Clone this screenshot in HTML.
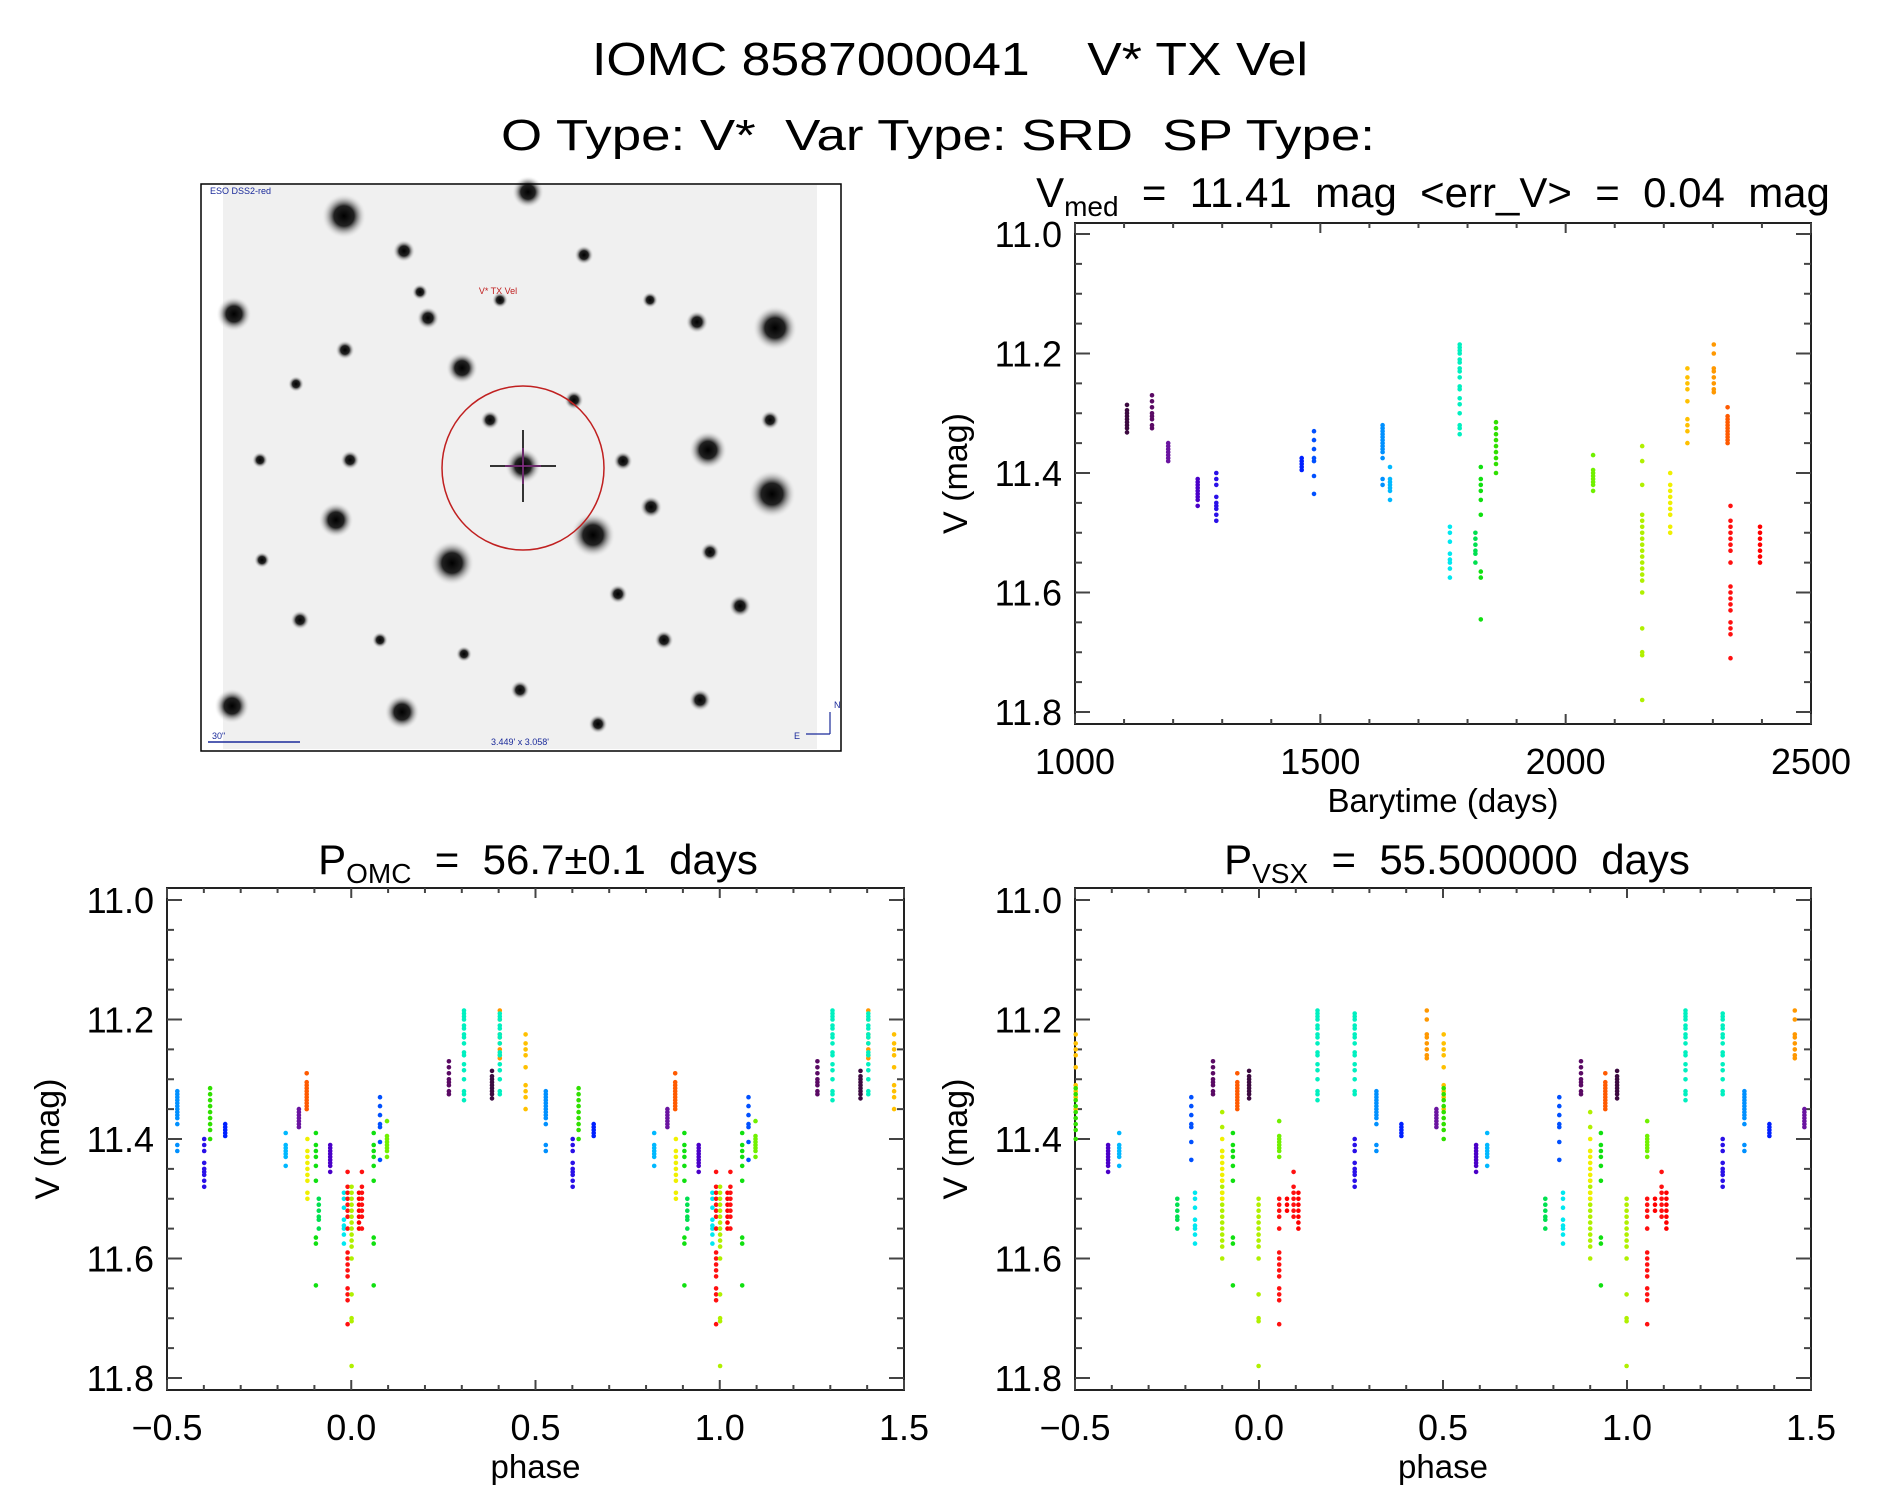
<!DOCTYPE html>
<html><head><meta charset="utf-8"><style>
html,body{margin:0;padding:0;background:#fff;}
svg{display:block;font-family:"Liberation Sans",sans-serif;}
text{white-space:pre;}
</style></head><body>
<svg id="fig" width="1889" height="1494" viewBox="0 0 1889 1494" xmlns="http://www.w3.org/2000/svg" xml:space="preserve">
<rect width="1889" height="1494" fill="#fff"/>
<text x="950" y="75" font-size="46" text-anchor="middle" textLength="716" lengthAdjust="spacingAndGlyphs">IOMC 8587000041    V* TX Vel</text>
<text x="938" y="150" font-size="44" text-anchor="middle" textLength="874" lengthAdjust="spacingAndGlyphs">O Type: V*  Var Type: SRD  SP Type:</text>
<g id="sky"></g>
<g id="p1"></g>
<g id="p2"></g>
<g id="p3"></g>
</svg>
<script>
// ---- data ----
const clusterTimes = [1106,1157,1190,1250,1288,1462,1487,1627,1642,1764,1784,1816,1827,1858,2056,2156,2213,2248,2302,2330,2336,2396];
const clusterColors = ['#3c0a40','#5a0a64','#6a14a0','#4a00c8','#2a10e8','#0020ff','#0050ff','#0090ff','#00b8ff','#00e8f0','#00f0c0','#00e050','#10e010','#30e000','#70f000','#b0f000','#f0f000','#ffc000','#ff9800','#ff5a00','#ff1010','#ff0000'];
const m1=[11.286,11.295,11.30,11.305,11.31,11.315,11.32,11.325,11.332];
const m2=[11.27,11.28,11.29,11.30,11.305,11.31,11.32,11.325];
const m3=[11.35,11.355,11.36,11.365,11.37,11.375,11.38];
const m4=[11.41,11.415,11.42,11.425,11.43,11.435,11.44,11.445,11.455];
const m5=[11.40,11.41,11.42,11.44,11.45,11.455,11.46,11.47,11.48];
const m6=[11.375,11.38,11.385,11.39,11.395];
const m7=[11.33,11.345,11.36,11.375,11.38,11.405,11.435];
const m8=[11.32,11.325,11.33,11.335,11.34,11.345,11.35,11.355,11.36,11.365,11.375,11.41,11.42];
const m9=[11.39,11.41,11.415,11.42,11.425,11.43,11.445];
const m10=[11.49,11.50,11.515,11.535,11.545,11.55,11.56,11.575];
const m11=[11.185,11.19,11.195,11.20,11.21,11.215,11.225,11.23,11.24,11.255,11.26,11.275,11.285,11.30,11.32,11.325,11.335];
const m12=[11.50,11.51,11.52,11.53,11.535,11.55];
const m13=[11.39,11.41,11.42,11.43,11.445,11.47,11.565,11.575,11.645];
const m14=[11.315,11.325,11.335,11.345,11.355,11.365,11.375,11.385,11.40];
const m15=[11.37,11.395,11.40,11.405,11.41,11.415,11.42,11.43];
const m16=[11.355,11.38,11.42,11.47,11.48,11.49,11.50,11.51,11.52,11.53,11.54,11.55,11.56,11.57,11.58,11.60,11.66,11.70,11.705,11.78];
const m17=[11.40,11.42,11.43,11.44,11.45,11.46,11.47,11.49,11.50];
const m18=[11.225,11.24,11.25,11.26,11.28,11.31,11.32,11.33,11.35];
const m19=[11.185,11.20,11.225,11.23,11.24,11.25,11.26,11.265];
const m20=[11.29,11.305,11.31,11.315,11.32,11.325,11.33,11.335,11.34,11.345,11.35];
const m21=[11.455,11.48,11.49,11.50,11.51,11.52,11.53,11.55,11.59,11.60,11.61,11.62,11.63,11.65,11.66,11.67,11.71];
const m22=[11.49,11.50,11.51,11.52,11.53,11.54,11.55];
const clusterMags=[m1,m2,m3,m4,m5,m6,m7,m8,m9,m10,m11,m12,m13,m14,m15,m16,m17,m18,m19,m20,m21,m22];
// phase entries: [phase, cluster number (1-based), magLo, magHi]
const omcPhases=[[-0.472,8],[-0.399,5],[-0.383,14],[-0.342,6],[-0.178,9],[-0.142,3],[-0.121,20],[-0.119,17],[-0.096,13],[-0.088,12],[-0.057,4],[-0.020,10],[-0.010,21],[0.001,16,11.48,11.8],[0.021,22],[0.029,21,11.45,11.56],[0.061,13],[0.078,7],[0.097,15],[0.265,2],[0.306,11],[0.382,1],[0.403,19],[0.403,11,11.19,11.33],[0.473,18]];
const vsxPhases=[[-0.498,18],[-0.498,14],[-0.410,4],[-0.380,9],[-0.222,12],[-0.184,7],[-0.174,10],[-0.125,2],[-0.100,16,11.3,11.6],[-0.100,17],[-0.071,13],[-0.059,20],[-0.027,1],[-0.001,16,11.5,11.8],[0.055,21,11.5,11.72],[0.055,15],[0.076,22,11.5,11.52],[0.094,21,11.45,11.54],[0.107,22],[0.159,11],[0.260,11,11.19,11.33],[0.260,5],[0.319,8],[0.387,6],[0.456,19],[0.482,3]];
const magTicks=['11.0','11.2','11.4','11.6','11.8'];
const timeTicks=['1000','1500','2000','2500'];
const phaseTicks=['\u22120.5','0.0','0.5','1.0','1.5'];

const NS='http://www.w3.org/2000/svg';
function mk(parent,tag,attrs){const e=document.createElementNS(NS,tag);for(const k in attrs)e.setAttribute(k,attrs[k]);parent.appendChild(e);return e;}

function panel(g,box,xr,yr,xMajor,xMinor,opt){
  const X=v=>box.l+(v-xr[0])/(xr[1]-xr[0])*(box.r-box.l);
  const y0=box.t0, y8=box.t0+478;
  const Y=v=>y0+(v-11.0)/0.8*(y8-y0);
  const fr=mk(g,'rect',{x:box.l,y:box.t,width:box.r-box.l,height:box.b-box.t,fill:'none',stroke:'#222','stroke-width':2});
  
  
  for(let v=11.0;v<=11.8001;v+=0.05){
    const major=Math.abs((v*10)%2)<0.01||Math.abs((v*10)%2-2)<0.01;
    const len=major?15:7;
    mk(g,'line',{x1:box.l,x2:box.l+len,y1:Y(v),y2:Y(v),stroke:'#444','stroke-width':2});
    mk(g,'line',{x1:box.r,x2:box.r-len,y1:Y(v),y2:Y(v),stroke:'#444','stroke-width':2});
  }
  magTicks.forEach(s=>{
    const t=mk(g,'text',{x:box.l-13,y:Y(parseFloat(s))+13,'font-size':36,'text-anchor':'end'});
    t.textContent=s;
    
    
  });
  const n=Math.round((xr[1]-xr[0])/xMinor);
  for(let i=0;i<=n;i++){
    const v=xr[0]+i*xMinor;
    const major=Math.abs(((v-xr[0])/xMajor)-Math.round((v-xr[0])/xMajor))<0.001;
    const len=major?10:5;
    mk(g,'line',{x1:X(v),x2:X(v),y1:box.b,y2:box.b-len,stroke:'#444','stroke-width':2});
    mk(g,'line',{x1:X(v),x2:X(v),y1:box.t,y2:box.t+len,stroke:'#444','stroke-width':2});
  }
  opt.xticks.forEach((s,i)=>{
    const v=xr[0]+i*xMajor;
    const t=mk(g,'text',{x:X(v),y:box.b+50,'font-size':36,'text-anchor':'middle'});
    t.textContent=s;
    
    
  });
  const xt=mk(g,'text',{x:(box.l+box.r)/2,y:box.b+88,'font-size':33,'text-anchor':'middle'});
  xt.textContent=opt.xlabel;
  
  
  const yx=box.l-108, yc=(box.t+box.b)/2;
  const yt=mk(g,'text',{x:yx,y:yc,'font-size':34,'text-anchor':'middle',transform:`rotate(-90 ${yx} ${yc})`});
  yt.textContent='V (mag)';
  
  
  return {X,Y};
}
function dot(g,x,y,c){
  const d=mk(g,'circle',{cx:x.toFixed(1),cy:y.toFixed(1),r:2.3,fill:c});
  
  
}
const p1=document.getElementById('p1');
const A=panel(p1,{l:1075,r:1811,t:223,b:724,t0:234},[1000,2500],[11,11.8],500,100,{xticks:timeTicks,xlabel:'Barytime (days)'});
clusterTimes.forEach((t,i)=>clusterMags[i].forEach(m=>dot(p1,A.X(t),A.Y(m),clusterColors[i])));
function phasePanel(id,box,entries){
  const g=document.getElementById(id);
  const P=panel(g,box,[-0.5,1.5],[11,11.8],0.5,0.1,{xticks:phaseTicks,xlabel:'phase'});
  entries.forEach(e=>{
    const [ph,ci,lo,hi]=e;
    const mags=clusterMags[ci-1].filter(m=>(lo===undefined||m>=lo)&&(hi===undefined||m<=hi));
    [ph,ph+1].forEach(p=>{ if(p>=-0.5&&p<=1.5) mags.forEach(m=>dot(g,P.X(p),P.Y(m),clusterColors[ci-1])); });
  });
  return g;
}
phasePanel('p2',{l:167,r:904,t:888,b:1390,t0:900},omcPhases);
phasePanel('p3',{l:1075,r:1811,t:888,b:1390,t0:900},vsxPhases);

const svg=document.getElementById('fig');
function title(x,y,parts,name){
  const t=mk(svg,'text',{x:x,y:y,'font-size':42,'text-anchor':'middle'});
  
  
  parts.forEach(p=>{const s=mk(t,'tspan',p.sub?{'font-size':28,dy:9}:{dy:p.dy||0});s.textContent=p.s;});
}
title(1433,207,[{s:'V'},{s:'med',sub:1},{s:'  =  11.41  mag  <err_V>  =  0.04  mag',dy:-9}],'lightcurve-title');
title(538,874,[{s:'P'},{s:'OMC',sub:1},{s:'  =  56.7\u00b10.1  days',dy:-9}],'omc-period-title');
title(1457,874,[{s:'P'},{s:'VSX',sub:1},{s:'  =  55.500000  days',dy:-9}],'vsx-period-title');

// ---- sky image (decorative) ----
const sky=document.getElementById('sky');
const defs=mk(sky,'defs',{});
const rg=mk(defs,'radialGradient',{id:'star'});
mk(rg,'stop',{offset:'0','stop-color':'#000'});
mk(rg,'stop',{offset:'0.45','stop-color':'#222'});
mk(rg,'stop',{offset:'1','stop-color':'#f2f2f2','stop-opacity':0});
mk(sky,'rect',{x:223,y:185,width:594,height:564,fill:'#f0f0f0'});
const stars=[[344,216,14],[528,192,10],[234,314,11],[775,328,14],[462,368,10],[708,450,12],[772,494,15],[336,520,11],[593,535,14],[452,563,14],[402,712,11],[232,706,11],[404,251,7],[584,255,6],[428,318,7],[697,322,7],[296,384,5],[345,350,6],[490,420,6],[574,400,6],[623,461,6],[651,507,7],[710,552,6],[740,606,7],[664,640,6],[598,724,6],[520,690,6],[464,654,5],[380,640,5],[300,620,6],[262,560,5],[700,700,7],[770,420,6],[618,594,6],[350,460,6],[260,460,5],[420,292,5],[500,300,5],[650,300,5]];
stars.forEach(s=>mk(sky,'circle',{cx:s[0],cy:s[1],r:s[2]*1.6,fill:'url(#star)'}));
mk(sky,'circle',{cx:523,cy:466,r:18,fill:'url(#star)'});
mk(sky,'line',{x1:490,x2:556,y1:466,y2:466,stroke:'#333','stroke-width':2});
mk(sky,'line',{x1:523,x2:523,y1:430,y2:502,stroke:'#333','stroke-width':2});
mk(sky,'line',{x1:505,x2:541,y1:466,y2:466,stroke:'#a020a0','stroke-width':1});
mk(sky,'line',{x1:523,x2:523,y1:448,y2:484,stroke:'#a020a0','stroke-width':1});
mk(sky,'ellipse',{cx:523,cy:468,rx:81,ry:82,fill:'none',stroke:'#c02020','stroke-width':1.5});
mk(sky,'rect',{x:201,y:184,width:640,height:567,fill:'none',stroke:'#000','stroke-width':1.5});
const lbls=[[210,194,'ESO DSS2-red','start','#1a2a9a',9],[498,294,'V* TX Vel','middle','#c02020',9],[212,739,'30"','start','#1a2a9a',9],[520,745,'3.449\' x 3.058\'','middle','#1a2a9a',9],[794,739,'E','start','#1a2a9a',9],[834,708,'N','start','#1a2a9a',9]];
lbls.forEach(l=>{const t=mk(sky,'text',{x:l[0],y:l[1],'font-size':l[5],'text-anchor':l[3],fill:l[4]});t.textContent=l[2];});
mk(sky,'line',{x1:208,x2:300,y1:742,y2:742,stroke:'#1a2a9a','stroke-width':1.5});
mk(sky,'line',{x1:830,x2:830,y1:712,y2:734,stroke:'#1a2a9a','stroke-width':1.2});
mk(sky,'line',{x1:806,x2:830,y1:734,y2:734,stroke:'#1a2a9a','stroke-width':1.2});
</script>
</body></html>
